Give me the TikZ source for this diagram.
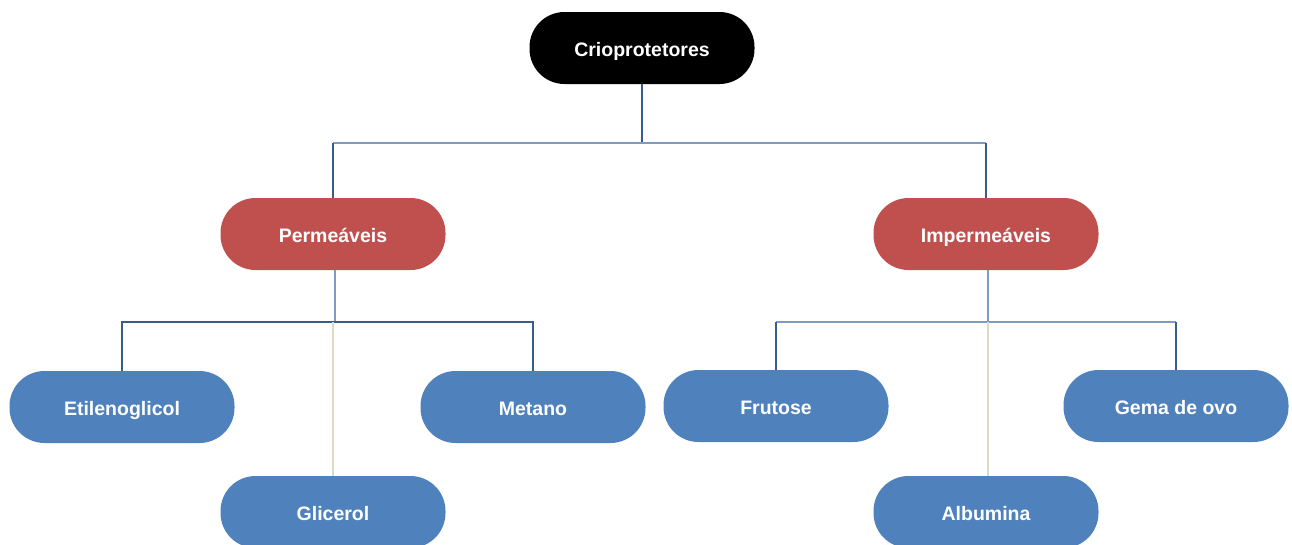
\documentclass[tikz,border=0pt]{standalone}
\usepackage{fontspec}
\setmainfont{Liberation Sans}
\begin{document}
\definecolor{boxblue}{HTML}{4F81BD}
\definecolor{boxred}{HTML}{C0504D}
\definecolor{linkdark}{HTML}{385D8A}
\definecolor{linklight}{HTML}{7F9AC4}
\definecolor{linkbeige}{HTML}{DDD9C3}
\begin{tikzpicture}[x=1pt,y=-1pt,
  pill/.style={rectangle,rounded corners=35pt,minimum width=225pt,minimum height=72pt,
    inner sep=0pt,text height=18pt,text depth=2pt,text=white,
    font=\bfseries\fontsize{19.5}{23}\selectfont},
  rootbox/.style={pill,fill=black},
  groupbox/.style={pill,fill=boxred},
  itembox/.style={pill,fill=boxblue},
  dark/.style={draw=linkdark,line width=1.8pt},
  light/.style={draw=linklight,line width=1.8pt},
  beige/.style={draw=linkbeige,line width=1.4pt}]
\useasboundingbox (0,0) rectangle (1292,544);
\clip (0,0) rectangle (1292,544);

% boxes
\node[rootbox]  (root)  at (642,48)  {Crioprotetores};
\node[groupbox] (perm)  at (333,234) {Permeáveis};
\node[groupbox] (imp)   at (986,234) {Impermeáveis};
\node[itembox]  (etil)  at (122,407) {Etilenoglicol};
\node[itembox]  (meta)  at (533,407) {Metano};
\node[itembox]  (glic)  at (333,512) {Glicerol};
\node[itembox]  (fru)   at (776,406) {Frutose};
\node[itembox]  (gema)  at (1176,406) {Gema de ovo};
\node[itembox]  (alb)   at (986,512) {Albumina};

% junction points on the horizontal bars
\coordinate (topbar)  at (642,143);
\coordinate (permbar) at (335,322);
\coordinate (impbar)  at (988,322);

% root to the two groups
\draw[dark] (root.south) -- (topbar);
\draw[light] (perm.north |- topbar) -- (imp.north |- topbar);
\draw[dark] (perm.north |- topbar) -- (perm.north);
\draw[dark] (imp.north |- topbar) -- (imp.north);

% permeable group
\draw[light] (perm.south -| permbar) -- (permbar);
\draw[dark] (etil.north) |- (permbar) -| (meta.north);
\draw[beige] (glic.north |- permbar) -- (glic.north);

% impermeable group
\draw[light] (imp.south -| impbar) -- (impbar);
\draw[light] (fru.north |- impbar) -- (gema.north |- impbar);
\draw[dark] (fru.north) -- (fru.north |- impbar);
\draw[dark] (gema.north) -- (gema.north |- impbar);
\draw[beige] (impbar) -- (alb.north -| impbar);
\end{tikzpicture}
\end{document}
